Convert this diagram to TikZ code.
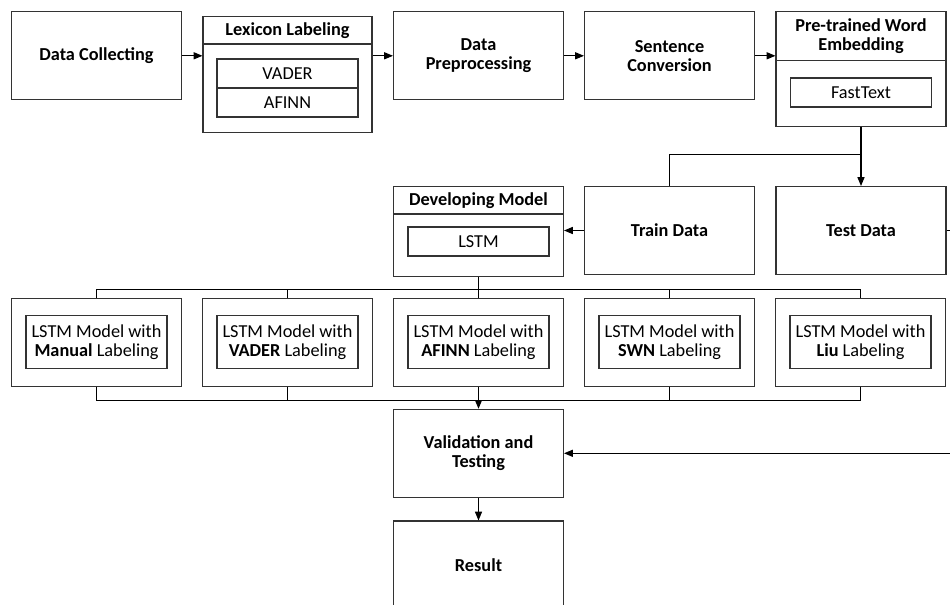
\documentclass[tikz,border=0pt]{standalone}
\usepackage{fontspec}
\setmainfont{Carlito}
\usetikzlibrary{arrows.meta, positioning, calc}

\begin{document}
\begin{tikzpicture}[x=0.02cm, y=-0.02cm,
    every node/.style={font=\fontsize{10.4pt}{11pt}\selectfont, align=center},
    box/.style={draw=black!80, line width=0.6pt, minimum width=3.4cm, minimum height=1.76cm, inner sep=2pt},
    inbox/.style={draw=black!80, line width=0.6pt, minimum width=2.82cm, minimum height=0.58cm, inner sep=1pt},
    sep/.style={draw=black!80, line width=0.6pt},
    arr/.style={-{Triangle[length=5pt, width=4pt]}, line width=0.6pt}]
    \useasboundingbox (0,0) rectangle (950,605);
    % First row
    \node[box] (collect) at (96.5,55.8) {\textbf{Data Collecting}};
    \node[box, minimum width=3.38cm, minimum height=2.31cm] (lexicon) at (287.5,74.3) {};
    \node (lexhead) at (287.5,30.3) {\textbf{Lexicon Labeling}};
    \draw[sep] (lexicon.west |- 0,44) -- (lexicon.east |- 0,44);
    \node[inbox] (lexvader) at (287.5,73.5) {VADER};
    \node[inbox] (lexafinn) at (287.5,102.5) {AFINN};
    \node[box] (prep) at (478.5,55.8) {\textbf{Data}\\\textbf{Preprocessing}};
    \node[box] (conv) at (669.5,55.8) {\textbf{Sentence}\\\textbf{Conversion}};
    \node[box, minimum height=2.29cm] (embed) at (861,68.9) {};
    \node (embhead) at (861,36.2) {\textbf{Pre-trained Word}\\\textbf{Embedding}};
    \draw[sep] (embed.west |- 0,60.7) -- (embed.east |- 0,60.7);
    \node[inbox] (fasttext) at (861,92.5) {FastText};
    % Second row
    \node[box] (train) at (669.5,230.5) {\textbf{Train Data}};
    \node[box] (test) at (861,230.5) {\textbf{Test Data}};
    \node[box, minimum height=1.79cm] (develop) at (478.5,231.3) {};
    \node (devhead) at (478.5,200.3) {\textbf{Developing Model}};
    \draw[sep] (develop.west |- 0,214) -- (develop.east |- 0,214);
    \node[inbox] (lstm) at (478.5,241.5) {LSTM};
    % LSTM models
    \foreach \nm/\lab [count=\i from 0] in {mmanual/Manual, mvader/VADER, mafinn/AFINN, mswn/SWN, mliu/Liu} {
        \node[box, minimum height=1.754cm] (\nm) at (96.5+191*\i,342.2) {};
        \node[inbox, minimum height=1.06cm] (\nm txt) at (\nm) {LSTM Model with\\\textbf{\lab} Labeling};
    }
    % Validation and result
    \node[box] (valid) at (478.5,453.3) {\textbf{Validation and}\\\textbf{Testing}};
    \node[box] (result) at (478.5,565) {\textbf{Result}};
    % Connectors
    \draw[arr] (collect.east) -- (collect.east -| lexicon.west);
    \draw[arr] (prep.west -| lexicon.east) -- (prep.west);
    \draw[arr] (prep.east) -- (conv.west);
    \draw[arr] (conv.east) -- (conv.east -| embed.west);
    \draw[arr] (embed.south) -- (test.north);
    \draw (embed.south) ++(0,27.3) -| (train.north);
    \draw[arr] (train.west) -- (train.west -| develop.east);
    \draw (develop.south) -- ++(0,12.3) coordinate (topbus);
    \foreach \nm in {mmanual, mvader, mafinn, mswn, mliu}
        \draw (topbus) -| (\nm.north);
    \path (valid.north) ++(0,-8.6) coordinate (botbus);
    \foreach \nm in {mmanual, mvader, mswn, mliu}
        \draw (\nm.south) |- (botbus);
    \draw[arr] (mafinn.south) -- (valid.north);
    \draw[arr] (test.east) -- ++(40,0) |- (valid.east);
    \draw[arr] (valid.south) -- (result.north);
\end{tikzpicture}
\end{document}
